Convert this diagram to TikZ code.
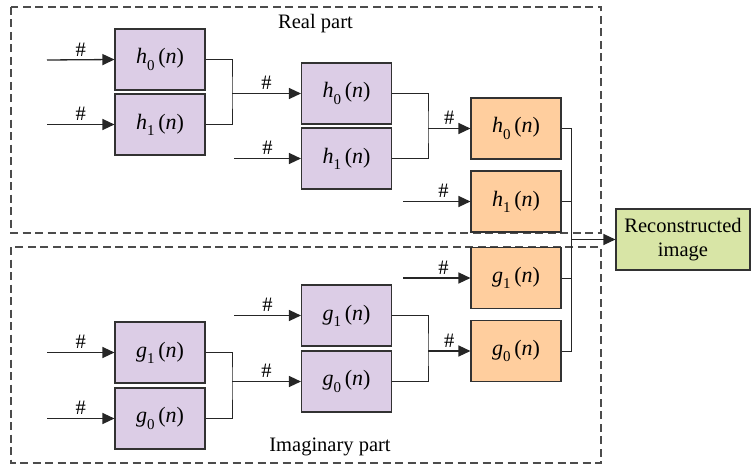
\documentclass[tikz,border=0pt]{standalone}
\usepackage{fontspec}
\setmainfont{Liberation Serif}
\usetikzlibrary{arrows.meta,calc}
\definecolor{purp}{RGB}{220,205,230}
\definecolor{oran}{RGB}{255,206,158}
\definecolor{gree}{RGB}{216,229,166}
\definecolor{edge}{RGB}{50,50,50}
\newcommand{\filt}[2]{\textit{#1}\raisebox{-0.28em}{\fontsize{15}{15}\selectfont #2}\,(\textit{n})}
\begin{document}
\begin{tikzpicture}[x=1pt,y=-1pt,
  every node/.style={font=\fontsize{20.5}{24}\selectfont},
  fbox/.style={draw=edge,line width=1.1pt,minimum width=90pt,minimum height=61pt,inner sep=0pt,font=\fontsize{22}{24}\selectfont},
  pbox/.style={fbox,fill=purp},
  obox/.style={fbox,fill=oran},
  arr/.style={draw=black!85,line width=1.3pt,-{Triangle[length=12pt,width=11pt]}},
  wire/.style={draw=black!85,line width=1pt},
  dbox/.style={draw=black!70,line width=1.1pt,dash pattern=on 8pt off 4.5pt},
  hash/.style={above=3pt,inner sep=0pt}]
\useasboundingbox (0,0) rectangle (751,468);
% dashed regions
\draw[dbox] (11,7) rectangle (601,233);
\draw[dbox] (11,247) rectangle (601,463);
\node (real) at (315.5,24) {Real part};
\node (imag) at (330,447) {Imaginary part};
% real part boxes
\node[pbox] (A0) at (160,59.5) {\filt{h}{0}};
\node[pbox] (A1) at (160,124.5) {\filt{h}{1}};
\node[pbox] (B0) at (346.5,93.5) {\filt{h}{0}};
\node[pbox] (B1) at (346.5,158.5) {\filt{h}{1}};
\node[obox] (C0) at (516,128.5) {\filt{h}{0}};
\node[obox] (C1) at (516,201.5) {\filt{h}{1}};
% imaginary part boxes
\node[pbox] (D1) at (160,352.5) {\filt{g}{1}};
\node[pbox] (D0) at (160,418.5) {\filt{g}{0}};
\node[pbox] (E1) at (346.5,315.5) {\filt{g}{1}};
\node[pbox] (E0) at (346.5,381.5) {\filt{g}{0}};
\node[obox] (F1) at (516,278) {\filt{g}{1}};
\node[obox] (F0) at (516,351) {\filt{g}{0}};
% output
\node[draw=edge,line width=1.1pt,fill=gree,minimum width=134pt,minimum height=61pt,inner sep=0pt,align=center,font=\fontsize{20.5}{24}\selectfont] (R) at (683,239.5) {Reconstructed\\image};
% coordinates
\coordinate (iA0) at (47,60);
\coordinate (iA1) at (47,124.5);
\coordinate (iB1) at (234,158.5);
\coordinate (iC1) at (403,201.5);
\coordinate (iD1) at (47,352.5);
\coordinate (iD0) at (47,418.5);
\coordinate (iE1) at (234,315.5);
\coordinate (iF1) at (403,278);
\coordinate (j1) at (232,93.5);
\coordinate (j2) at (428,128.5);
\coordinate (j3) at (232,381.5);
\coordinate (j4) at (428,351);
\coordinate (bus) at (571,239.5);
% inputs
\draw[arr] (iA0) -- node[hash]{\#} (A0.west);
\draw[arr] (iA1) -- node[hash]{\#} (A1.west);
\draw[arr] (iB1) -- node[hash]{\#} (B1.west);
\draw[arr] (iC1) -- node[hash,pos=0.6]{\#} (C1.west);
\draw[arr] (iD1) -- node[hash]{\#} (D1.west);
\draw[arr] (iD0) -- node[hash]{\#} (D0.west);
\draw[arr] (iE1) -- node[hash]{\#} (E1.west);
\draw[arr] (iF1) -- node[hash,pos=0.6]{\#} (F1.west);
% merges
\draw[wire] (A0.east) -| (j1) |- (A1.east);
\draw[arr] (j1) -- node[hash]{\#} (B0.west);
\draw[wire] (B0.east) -| (j2) |- (B1.east);
\draw[arr] (j2) -- node[hash]{\#} (C0.west);
\draw[wire] (D1.east) -| (j3) |- (D0.east);
\draw[arr] (j3) -- node[hash]{\#} (E0.west);
\draw[wire] (E1.east) -| (j4) |- (E0.east);
\draw[arr] (j4) -- node[hash]{\#} (F0.west);
% output bus
\draw[wire] (C0.east) -| (bus) |- (F0.east);
\draw[wire] (C1.east) -- (C1.east -| bus);
\draw[wire] (F1.east) -- (F1.east -| bus);
\draw[arr] (bus) -- (R.west);
\end{tikzpicture}
\end{document}
